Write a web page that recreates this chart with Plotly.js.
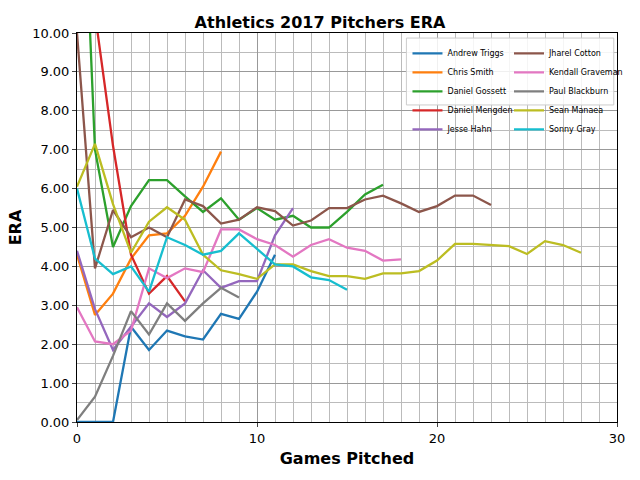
<!DOCTYPE html>
<html>
<head>
<meta charset="utf-8">
<script src="https://cdn.plot.ly/plotly-3.0.1.min.js"></script>
<style>body{margin:0}#chart{width:640px;height:480px}</style>
</head>
<body>
<div id="chart"></div>
<script>
// ERA after each game pitched, Athletics 2017
var pitchers = ['Andrew Triggs', 'Chris Smith', 'Daniel Gossett', 'Daniel Mengden', 'Jesse Hahn',
    'Jharel Cotton', 'Kendall Graveman', 'Paul Blackburn', 'Sean Manaea', 'Sonny Gray'];
var colors = ['#1f77b4', '#ff7f0e', '#2ca02c', '#d62728', '#9467bd',
    '#8c564b', '#e377c2', '#7f7f7f', '#bcbd22', '#17becf'];

var triggs = [0, 0, 0, 2.45, 1.85, 2.35, 2.2, 2.12, 2.78, 2.65, 3.35, 4.3];
var smith = [4.3, 2.75, 3.3, 4.2, 4.8, 4.85, 5.3, 6.05, 6.95];
var gossett = [18, 7.0, 4.5, 5.55, 6.22, 6.22, 5.8, 5.4, 5.75, 5.2, 5.5, 5.2, 5.3, 5.0, 5.0, 5.4, 5.85, 6.1];
var mengden = [27, 10.5, 7.1, 4.3, 3.3, 3.75, 3.1];
var hahn = [4.4, 2.9, 1.85, 2.45, 3.05, 2.7, 3.05, 3.9, 3.45, 3.62, 3.62, 4.8, 5.5];
var cotton = [10.0, 3.95, 5.45, 4.75, 5.0, 4.75, 5.72, 5.55, 5.1, 5.2, 5.52, 5.42, 5.05, 5.18, 5.5, 5.5,
    5.72, 5.82, 5.62, 5.4, 5.55, 5.82, 5.82, 5.58];
var graveman = [2.95, 2.07, 2.0, 2.35, 3.95, 3.7, 3.95, 3.85, 4.95, 4.95, 4.7, 4.55, 4.25, 4.55, 4.7,
    4.48, 4.4, 4.15, 4.18];
var blackburn = [0.05, 0.65, 1.7, 2.85, 2.25, 3.05, 2.6, 3.05, 3.45, 3.2];
var manaea = [6.05, 7.15, 5.6, 4.35, 5.15, 5.52, 5.2, 4.3, 3.9, 3.8, 3.68, 4.05, 4.05, 3.88, 3.75, 3.75,
    3.68, 3.82, 3.82, 3.88, 4.15, 4.58, 4.58, 4.55, 4.52, 4.32, 4.65, 4.55, 4.35];
var gray = [6.0, 4.2, 3.8, 4.0, 3.35, 4.75, 4.55, 4.3, 4.4, 4.85, 4.45, 4.05, 4.0, 3.72, 3.65, 3.4];

var series = [triggs, smith, gossett, mengden, hahn, cotton, graveman, blackburn, manaea, gray];

// two legends side by side stand in for a two-column legend
var traces = series.map(function (ys, i) {
    return {
        x: ys.map(function (v, k) { return k; }),
        y: ys,
        mode: 'lines',
        name: pitchers[i],
        legend: i < 5 ? 'legend' : 'legend2',
        line: {color: colors[i], width: 2.3}
    };
});

var legendStyle = {font: {size: 8}, bgcolor: 'rgba(0,0,0,0)', borderwidth: 0,
    tracegroupgap: 0, yanchor: 'top', y: 0.985, itemwidth: 30};

var layout = {
    width: 640, height: 480,
    margin: {l: 77, r: 20, t: 33, b: 58},
    font: {family: 'DejaVu Sans', size: 13, color: '#000'},
    title: {text: '<b>Athletics 2017 Pitchers ERA</b>', font: {size: 16}, x: 0.5, y: 0.965},
    showlegend: true,
    legend: Object.assign({x: 0.612, xanchor: 'left'}, legendStyle),
    legend2: Object.assign({x: 0.8, xanchor: 'left'}, legendStyle),
    shapes: [{
        type: 'rect', xref: 'paper', yref: 'paper', x0: 0.61, x1: 0.994, y0: 0.815, y1: 0.987,
        fillcolor: 'rgba(255,255,255,0.85)', line: {color: '#ccc', width: 1}, layer: 'above'
    }],
    xaxis: {
        range: [0, 30], dtick: 10, tick0: 0, ticks: 'outside', ticklen: 4,
        title: {text: '<b>Games Pitched</b>', standoff: 8},
        gridcolor: '#999', gridwidth: 1.3, zeroline: false,
        showline: true, mirror: true, linecolor: '#000', linewidth: 1,
        minor: {dtick: 1, showgrid: true, gridcolor: '#bbb', gridwidth: 1}
    },
    yaxis: {
        range: [0, 10], dtick: 1, tick0: 0, tickformat: '.2f', ticks: 'outside', ticklen: 4,
        title: {text: '<b>ERA</b>', standoff: 6},
        gridcolor: '#999', gridwidth: 1.3, zeroline: false,
        showline: true, mirror: true, linecolor: '#000', linewidth: 1,
        minor: {dtick: 0.5, showgrid: true, gridcolor: '#bbb', gridwidth: 1}
    },
    plot_bgcolor: '#fff', paper_bgcolor: '#fff'
};

Plotly.newPlot('chart', traces, layout, {displayModeBar: false});
</script>
</body>
</html>
